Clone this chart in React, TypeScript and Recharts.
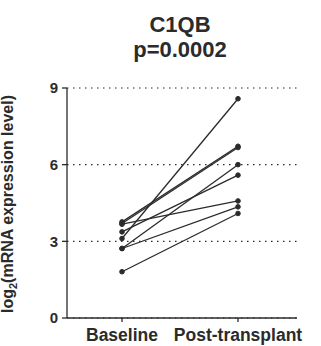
import { LineChart, Line, XAxis, YAxis, CartesianGrid } from "recharts";

const categories = ["Baseline", "Post-transplant"];
const subjects = ["p1", "p2", "p3", "p4", "p5", "p6", "p7", "p8"];
const baselineValues = [3.76, 3.7, 3.67, 3.37, 3.11, 2.72, 2.72, 1.81];
const postValues = [6.72, 6.67, 4.58, 5.59, 8.58, 6.0, 4.35, 4.09];
const yTicks = [0, 3, 6, 9];

const FONT = "'Liberation Sans', Arial, sans-serif";
const INK = "#2b2b2b";

// una fila por momento, una columna por paciente
const rows = categories.map((name, i) => {
  const row: any = { name };
  subjects.forEach((s, j) => {
    row[s] = i === 0 ? baselineValues[j] : postValues[j];
  });
  return row;
});

function YLabel() {
  return (
    <text
      x={13}
      y={204}
      transform="rotate(-90 13 204)"
      textAnchor="middle"
      fontFamily={FONT}
      fontWeight="bold"
      fontSize={16}
      fill={INK}
    >
      <tspan>log</tspan>
      <tspan dy={4} fontSize={11}>2</tspan>
      <tspan dy={-4}>(mRNA expression level)</tspan>
    </text>
  );
}

export default function App() {
  return (
    <div style={{ position: "absolute", left: 0, top: 0, width: 321, height: 346, background: "#fff" }}>
      <div
        style={{
          position: "absolute",
          left: 80,
          top: 12,
          width: 200,
          textAlign: "center",
          fontFamily: FONT,
          fontWeight: "bold",
          fontSize: 22,
          lineHeight: "25px",
          color: INK,
        }}
      >
        <div>C1QB</div>
        <div>p=0.0002</div>
      </div>
      <LineChart width={321} height={346} data={rows} margin={{ top: 88, right: 24, bottom: 0, left: 0 }}>
        <CartesianGrid vertical={false} stroke={INK} strokeDasharray="1.5 4.5" strokeWidth={1.2} />
        <XAxis
          dataKey="name"
          padding={{ left: 55, right: 59 }}
          height={28}
          tickSize={4}
          tickMargin={7}
          stroke={INK}
          strokeWidth={1.3}
          tick={{ fill: INK, fontFamily: FONT, fontWeight: "bold", fontSize: 17.5 }}
        />
        <YAxis
          domain={[0, 9]}
          ticks={yTicks}
          width={67}
          tickSize={5}
          tickMargin={4}
          stroke={INK}
          strokeWidth={1.3}
          tick={{ fill: INK, fontFamily: FONT, fontWeight: "bold", fontSize: 15 }}
          label={<YLabel />}
        />
        {subjects.map((s) => (
          <Line
            key={s}
            dataKey={s}
            stroke={INK}
            strokeWidth={1.3}
            dot={{ r: 2.3, fill: INK, stroke: INK, strokeWidth: 1 }}
            isAnimationActive={false}
          />
        ))}
      </LineChart>
    </div>
  );
}
